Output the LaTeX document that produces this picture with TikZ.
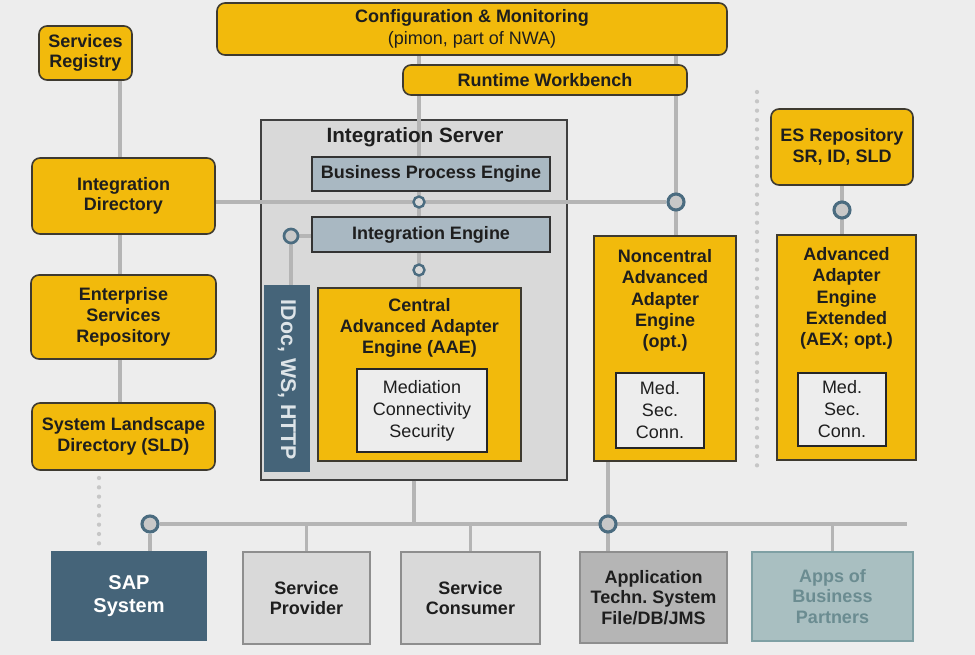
\documentclass[tikz,border=0pt]{standalone}
\usepackage{fontspec}
\setmainfont{Liberation Sans}
\frenchspacing
\definecolor{bgc}{HTML}{EDEDED}
\definecolor{yel}{HTML}{F2BA0C}
\definecolor{yelb}{HTML}{3E3A30}
\definecolor{srvf}{HTML}{D9D9D9}
\definecolor{engf}{HTML}{A9B8C2}
\definecolor{dblue}{HTML}{456479}
\definecolor{lnc}{HTML}{B5B5B5}
\definecolor{dotc}{HTML}{C6C6C6}
\definecolor{ringc}{HTML}{4B6C80}
\definecolor{ringf}{HTML}{C8C8C8}
\definecolor{lgf}{HTML}{D9D9D9}
\definecolor{lgb}{HTML}{8E8E8E}
\definecolor{mgf}{HTML}{B5B5B5}
\definecolor{abpf}{HTML}{A9BFC1}
\definecolor{abpb}{HTML}{7FA0A4}
\definecolor{abpt}{HTML}{6B8C91}
\definecolor{idoct}{HTML}{DDE4E8}
\definecolor{txt}{HTML}{1E1E1E}
\pgfdeclarelayer{bg}
\pgfdeclarelayer{srv}
\pgfdeclarelayer{lines}
\pgfsetlayers{bg,srv,lines,main}
\tikzset{
  sz/.style 2 args={minimum width=#1*0.75pt, minimum height=#2*0.75pt},
  base/.style={inner sep=0pt, align=center, text=txt, font=\fontsize{13.5}{15.5}\selectfont\bfseries},
  ybox/.style={base, draw=yelb, fill=yel, line width=1.2pt, rounded corners=6pt},
  ysq/.style={base, draw=yelb, fill=yel, line width=1.2pt},
  eng/.style={base, draw=black!80, fill=engf, line width=1pt},
  srvbox/.style={base, draw=black!75, fill=srvf, line width=1pt},
  title/.style={base, font=\fontsize{13.5}{15.8}\selectfont\bfseries},
  medbox/.style={base, draw=black!85, fill=bgc, line width=1pt, font=\fontsize{13.5}{16.5}\selectfont},
  lgbox/.style={base, draw=lgb, fill=lgf, line width=0.8pt},
  mgbox/.style={base, draw=lgb, fill=mgf, line width=0.8pt},
  abpbox/.style={base, draw=abpb, fill=abpf, text=abpt, line width=0.8pt},
  ring/.style={circle, draw=ringc, fill=ringf, line width=2.3pt, inner sep=0pt, minimum size=12pt},
  sring/.style={circle, draw=ringc, fill=srvf, line width=1.8pt, inner sep=0pt, minimum size=8.2pt},
  mring/.style={circle, draw=ringc, fill=ringf, line width=2pt, inner sep=0pt, minimum size=10.5pt},
  conn/.style={draw=lnc, line width=2.6pt},
  dotline/.style={draw=dotc, line width=3.2pt, line cap=round, dash pattern=on 0pt off 7pt}
}
\begin{document}
\begin{tikzpicture}[x=0.75pt, y=-0.75pt]
\useasboundingbox (0,0) rectangle (975,655);
\begin{pgfonlayer}{bg}
  \fill[bgc] (0,0) rectangle (975,655);
\end{pgfonlayer}
\begin{pgfonlayer}{srv}
  \node[srvbox, sz={306}{360}] (is) at (414,300) {};
\end{pgfonlayer}

% top
\node[ybox, sz={510}{52}] (cfg) at (472,29) {Configuration \& Monitoring\\[1pt]{\mdseries (pimon, part of NWA)}};
\node[ybox, sz={284}{30}] (rwb) at (545,80) {Runtime Workbench};

% left column
\node[ybox, sz={93}{54}] (sreg) at (85.5,53) {Services\\Registry};
\node[ybox, sz={183}{76}] (idir) at (123.5,196) {Integration\\Directory};
\node[ybox, sz={185}{84}] (esr) at (123.5,317) {Enterprise\\Services\\Repository};
\node[ybox, sz={183}{67}] (sld) at (123.5,436.5) {System Landscape\\Directory (SLD)};

% integration server
\node[base, font=\fontsize{15.5}{18}\selectfont\bfseries] (isT) at (415,137) {Integration Server};
\node[eng, sz={238}{34}] (bpe) at (431,174) {Business Process Engine};
\node[eng, sz={238}{35}] (ie) at (431,234.5) {Integration Engine};
\node[fill=dblue, inner sep=0pt, sz={46}{187}] (idoc) at (287,378.5) {};
\node[rotate=-90, inner sep=0pt, text=idoct, font=\fontsize{16}{18}\selectfont\bfseries] (idocT) at (287,380) {IDoc, WS, HTTP};
\node[ysq, sz={203}{173}] (caae) at (419.5,374.5) {};
\node[title] (caaeT) at (419.5,327.5) {Central\\Advanced Adapter\\Engine (AAE)};
\node[medbox, sz={130}{83}] (med) at (422,410.5) {Mediation\\Connectivity\\Security};

% noncentral
\node[ysq, sz={142}{225}] (naae) at (665,348.5) {};
\node[title, font=\fontsize{13.5}{16}\selectfont\bfseries] (naaeT) at (665,300.5) {Noncentral\\Advanced\\Adapter\\Engine\\(opt.)};
\node[medbox, sz={88}{75}] (nmed) at (660,410.5) {Med.\\Sec.\\Conn.};

% AEX
\node[ybox, sz={142}{76}] (esrep) at (842,147) {ES Repository\\SR, ID, SLD};
\node[ysq, sz={139}{225}] (aex) at (846.5,347.5) {};
\node[title, font=\fontsize{13.5}{16}\selectfont\bfseries] (aexT) at (846.5,298.5) {Advanced\\Adapter\\Engine\\Extended\\(AEX; opt.)};
\node[medbox, sz={88}{73}] (amed) at (842,409.5) {Med.\\Sec.\\Conn.};

% bottom systems
\node[base, fill=dblue, text=white, sz={156}{90}, font=\fontsize{15}{17}\selectfont\bfseries] (sap) at (129,596) {SAP\\System};
\node[lgbox, sz={127}{92}] (sp) at (306.5,598) {Service\\Provider};
\node[lgbox, sz={139}{92}] (sc) at (470.5,598) {Service\\Consumer};
\node[mgbox, sz={147}{91}] (app) at (653.5,597.5) {Application\\Techn. System\\File/DB/JMS};
\node[abpbox, sz={161}{89}] (abp) at (832.5,596.5) {Apps of\\Business\\Partners};

% rings
\node[sring] (k1) at (419,202) {};
\node[sring] (k2) at (419,270) {};
\node[mring] (k3) at (291,236) {};
\node[ring] (k4) at (676,202) {};
\node[ring] (k5) at (842,210) {};
\node[ring] (k6) at (150,524) {};
\node[ring] (k7) at (608,524) {};

\coordinate (busR) at (907,524);
\coordinate (colL) at (120,0);
\coordinate (dA) at (757,92);
\coordinate (dB) at (757,468);
\coordinate (dC) at (99,478);
\coordinate (dD) at (99,545);

\begin{pgfonlayer}{lines}
  \draw[conn] (sreg.south -| colL) -- (idir.north -| colL);
  \draw[conn] (idir.south -| colL) -- (esr.north -| colL);
  \draw[conn] (esr.south -| colL) -- (sld.north -| colL);
  \draw[conn] (idir.east |- k4) -- (k4);
  \draw[conn] (cfg.south -| k1) -- (k2.center) -- (caae.north -| k2);
  \draw[conn] (cfg.south -| k4) -- (naae.north -| k4);
  \draw[conn] (k3) -- (ie.west |- k3);
  \draw[conn] (k3) -- (idoc.north -| k3);
  \draw[conn] (is.south) -- (is.south |- k6);
  \draw[conn] (k6) -- (busR);
  \draw[conn] (k6) -- (sap.north -| k6);
  \draw[conn] (sp.north |- k6) -- (sp.north);
  \draw[conn] (sc.north |- k6) -- (sc.north);
  \draw[conn] (abp.north |- k6) -- (abp.north);
  \draw[conn] (naae.south -| k7) -- (app.north -| k7);
  \draw[conn] (esrep.south) -- (aex.north -| esrep.south);
  \draw[dotline] (dA) -- (dB);
  \draw[dotline] (dC) -- (dD);
\end{pgfonlayer}
\end{tikzpicture}
\end{document}
